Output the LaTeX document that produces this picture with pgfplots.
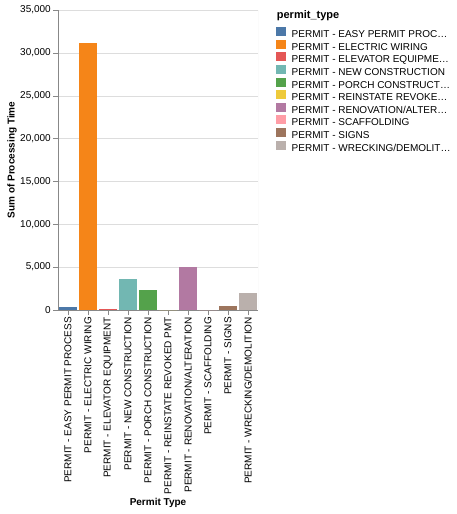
\documentclass[border=0pt]{standalone}
\usepackage{fontspec}
\setmainfont{Liberation Sans}
\usepackage{pgfplots}
\pgfplotsset{compat=1.18}

\definecolor{c0}{HTML}{4C78A8}
\definecolor{c1}{HTML}{F58518}
\definecolor{c2}{HTML}{E45756}
\definecolor{c3}{HTML}{72B7B2}
\definecolor{c4}{HTML}{54A24B}
\definecolor{c5}{HTML}{EECA3B}
\definecolor{c6}{HTML}{B279A2}
\definecolor{c7}{HTML}{FF9DA6}
\definecolor{c8}{HTML}{9D755D}
\definecolor{c9}{HTML}{BAB0AC}
\definecolor{axisgray}{HTML}{888888}
\definecolor{gridgray}{HTML}{DDDDDD}

\begin{document}
\begin{tikzpicture}
\path[use as bounding box] (0,0) rectangle (456pt,-514pt);
\begin{axis}[
    at={(58pt,-10pt)}, anchor=north west,
    scale only axis,
    width=200pt, height=300pt,
    ybar, bar width=18pt,
    xmin=-0.5, xmax=9.5,
    ymin=0, ymax=35000,
    xtick={0,...,9},
    xticklabels={PERMIT - EASY PERMIT PROCESS, PERMIT - ELECTRIC WIRING, PERMIT - ELEVATOR EQUIPMENT, PERMIT - NEW CONSTRUCTION, PERMIT - PORCH CONSTRUCTION, PERMIT - REINSTATE REVOKED PMT, PERMIT - RENOVATION/ALTERATION, PERMIT - SCAFFOLDING, PERMIT - SIGNS, PERMIT - WRECKING/DEMOLITION},
    ytick={0,5000,...,35000},
    scaled y ticks=false,
    /pgf/number format/.cd, fixed, 1000 sep={,}, assume math mode=true,
    /pgfplots/.cd,
    axis x line*=bottom, axis y line*=left,
    axis line style={axisgray},
    tick align=outside, major tick length=5pt,
    tick style={axisgray},
    ymajorgrids, grid style={gridgray},
    ticklabel style={font=\fontsize{10}{12}\selectfont},
    xticklabel style={rotate=90, anchor=east, inner sep=2pt},
    yticklabel style={inner sep=2pt},
    xlabel={\textbf{Permit Type}},
    ylabel={\textbf{Sum of Processing Time}},
    label style={font=\fontsize{11}{13}\selectfont},
    every axis x label/.style={at={(rel axis cs:0.5,0)}, yshift=-193pt, anchor=center},
    every axis y label/.style={at={(rel axis cs:0,0.5)}, xshift=-46pt, rotate=90, anchor=center},
    legend image code/.code={\fill[#1] (0pt,-1pt) rectangle (10pt,8pt);},
    legend cell align=left,
    legend style={at={(rel axis cs:1,1)}, anchor=north west, xshift=18pt, yshift=-17pt,
        draw=none, fill=none, inner sep=0pt, row sep=-0.4pt,
        font=\fontsize{10}{12}\selectfont,
        nodes={inner sep=0pt, text height=7.5pt, text depth=2.5pt},
        /tikz/every odd column/.style={column sep=5.5pt}},
]
\draw[gridgray] (rel axis cs:1,0) -- (rel axis cs:1,1);
\addplot[fill=c0, draw=none, bar shift=0pt] coordinates {(0,350)};
\addlegendentry{PERMIT - EASY PERMIT PROC…}
\addplot[fill=c1, draw=none, bar shift=0pt] coordinates {(1,31120)};
\addlegendentry{PERMIT - ELECTRIC WIRING}
\addplot[fill=c2, draw=none, bar shift=0pt] coordinates {(2,60)};
\addlegendentry{PERMIT - ELEVATOR EQUIPME…}
\addplot[fill=c3, draw=none, bar shift=0pt] coordinates {(3,3660)};
\addlegendentry{PERMIT - NEW CONSTRUCTION}
\addplot[fill=c4, draw=none, bar shift=0pt] coordinates {(4,2300)};
\addlegendentry{PERMIT - PORCH CONSTRUCT…}
\addplot[fill=c5, draw=none, bar shift=0pt] coordinates {(5,0)};
\addlegendentry{PERMIT - REINSTATE REVOKE…}
\addplot[fill=c6, draw=none, bar shift=0pt] coordinates {(6,5020)};
\addlegendentry{PERMIT - RENOVATION/ALTER…}
\addplot[fill=c7, draw=none, bar shift=0pt] coordinates {(7,0)};
\addlegendentry{PERMIT - SCAFFOLDING}
\addplot[fill=c8, draw=none, bar shift=0pt] coordinates {(8,500)};
\addlegendentry{PERMIT - SIGNS}
\addplot[fill=c9, draw=none, bar shift=0pt] coordinates {(9,1950)};
\addlegendentry{PERMIT - WRECKING/DEMOLIT…}
\end{axis}
\node[anchor=base west, inner sep=0pt, font=\fontsize{11}{13}\selectfont\bfseries] at (276.7pt,-19pt) {permit\_type};
\end{tikzpicture}
\end{document}
